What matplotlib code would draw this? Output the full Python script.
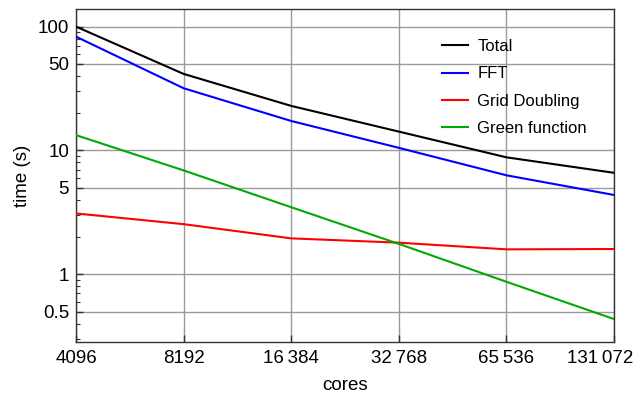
import matplotlib
matplotlib.use("Agg")
import matplotlib.pyplot as plt
from matplotlib.ticker import FixedLocator, LogLocator, NullFormatter
from matplotlib.transforms import ScaledTranslation

plt.rcParams['font.family'] = ['Liberation Sans', 'DejaVu Sans']

cores = [4096, 8192, 16384, 32768, 65536, 131072]
core_labels = ["4096", "8192", "16\u2009384", "32\u2009768", "65\u2009536", "131\u2009072"]

total = [100, 41.5, 22.9, 14.2, 8.8, 6.6]
fft = [83, 31.8, 17.3, 10.5, 6.3, 4.37]
grid_doubling = [3.1, 2.54, 1.95, 1.8, 1.59, 1.6]
green_function = [13.3, 6.9, 3.48, 1.76, 0.87, 0.435]

series = [
    ("Total", total, "#000000"),
    ("FFT", fft, "#0000ff"),
    ("Grid Doubling", grid_doubling, "#ff0000"),
    ("Green function", green_function, "#00aa00"),
]

y_ticks = [0.5, 1, 5, 10, 50, 100]
y_tick_labels = ["0.5", "1", "5", "10", "50", "100"]

fig = plt.figure(figsize=(6.35, 3.96), dpi=100)
ax = fig.add_axes([0.1197, 0.1364, 0.8473, 0.8401])

for name, vals, color in series:
    ax.plot(cores, vals, color=color, lw=1.5, label=name, zorder=3)

ax.set_xscale("log", base=2)
ax.set_yscale("log")
ax.set_xlim(cores[0], cores[-1])
ax.set_ylim(0.284, 138)

ax.set_xticks(cores)
ax.set_xticklabels(core_labels)
ax.xaxis.set_minor_locator(FixedLocator([]))

ax.set_yticks(y_ticks)
ax.set_yticklabels(y_tick_labels)
ax.yaxis.set_minor_locator(LogLocator(base=10, subs=[2, 3, 4, 6, 7, 8, 9]))
ax.yaxis.set_minor_formatter(NullFormatter())

ax.grid(True, which="major", color="#9a9a9a", lw=1.0, zorder=1)

ax.tick_params(axis="x", which="major", direction="in", length=5, width=1,
               color="#333333", labelsize=13.5, pad=6)
ax.tick_params(axis="y", which="major", direction="in", length=5, width=1,
               color="#333333", labelsize=13.5, pad=5)
ax.tick_params(axis="y", which="minor", direction="in", length=3, width=0.8,
               color="#333333")
ax.tick_params(top=False, right=False)

# keep the last x label inside the figure
last = ax.get_xticklabels()[-1]
last.set_transform(last.get_transform() + ScaledTranslation(-14 / 100, 0, fig.dpi_scale_trans))

for s in ax.spines.values():
    s.set_color("#333333")
    s.set_linewidth(1.0)

ax.set_xlabel("cores", fontsize=13.5, labelpad=7)
ax.set_ylabel("time (s)", fontsize=13.5, labelpad=5)

leg = ax.legend(loc="upper left", frameon=False, fontsize=12,
                handlelength=1.56, handletextpad=0.54, labelspacing=0.73,
                bbox_to_anchor=(0.653, 0.955))

fig.savefig("out.png", dpi=100)
